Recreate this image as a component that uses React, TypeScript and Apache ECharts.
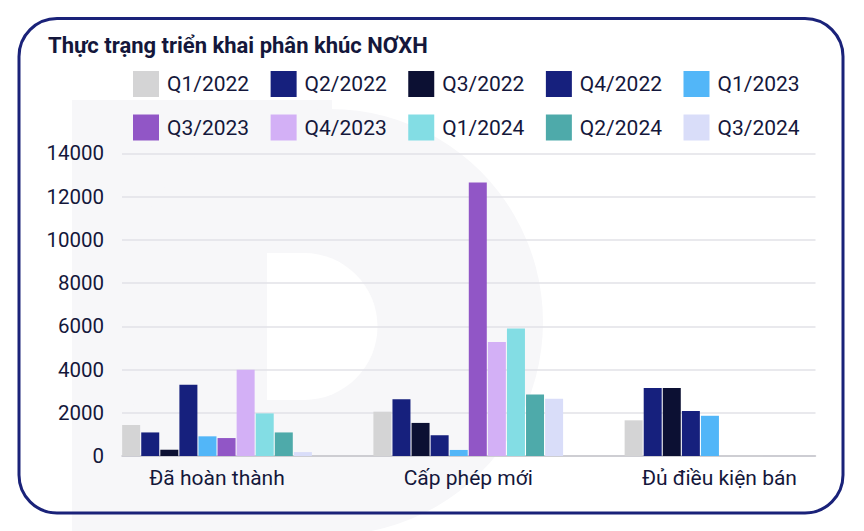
import React, { useEffect, useRef } from "react";
import * as echarts from "echarts";

const categories = ["Đã hoàn thành", "Cấp phép mới", "Đủ điều kiện bán"];
const seriesNames = [
  "Q1/2022", "Q2/2022", "Q3/2022", "Q4/2022", "Q1/2023",
  "Q3/2023", "Q4/2023", "Q1/2024", "Q2/2024", "Q3/2024",
];
const q1_2022 = [1430, 2050, 1650];
const q2_2022 = [1090, 2620, 3150];
const q3_2022 = [290, 1530, 3150];
const q4_2022 = [3290, 960, 2080];
const q1_2023 = [910, 280, 1860];
const q3_2023 = [830, 12650, null];
const q4_2023 = [3990, 5270, null];
const q1_2024 = [1970, 5900, null];
const q2_2024 = [1090, 2850, null];
const q3_2024 = [180, 2650, null];
const seriesValues = [q1_2022, q2_2022, q3_2022, q4_2022, q1_2023, q3_2023, q4_2023, q1_2024, q2_2024, q3_2024];
const seriesColors = [
  "#d4d4d5", "#16207d", "#0c1033", "#16207d", "#52b6f8",
  "#9156c6", "#d3b0f6", "#83dde4", "#4eaaaa", "#d9ddf9",
];
const yTicks = { min: 0, max: 14000, interval: 2000 };

const TEXT = "#14173b";
const FONT = "Roboto";

export default function App() {
  const ref = useRef<HTMLDivElement>(null);
  useEffect(() => {
    if (!ref.current) return;
    document.body.style.margin = "0";
    const chart = echarts.init(ref.current, null, { renderer: "svg" });
    const legendBase = {
      icon: "rect",
      itemWidth: 26,
      itemHeight: 26,
      itemGap: 21.5,
      left: 133,
      orient: "horizontal",
      padding: 0,
      selectedMode: false,
      textStyle: { fontFamily: FONT, fontSize: 21, color: TEXT, padding: [0, 0, 0, 3], width: 82 },
    };
    chart.setOption({
      animation: false,
      backgroundColor: "#ffffff",
      title: {
        text: "Thực trạng triển khai phân khúc NƠXH",
        left: 48,
        top: 34.5,
        padding: 0,
        textStyle: { fontFamily: FONT, fontSize: 22, fontWeight: "bold", color: TEXT },
      },
      legend: [
        { ...legendBase, top: 71, data: seriesNames.slice(0, 5) },
        { ...legendBase, top: 114.5, data: seriesNames.slice(5) },
      ],
      grid: [
        { left: 91.4, right: 18.9, top: 153.3, bottom: 75 },
        { left: 122, right: 48.5, top: 153.3, bottom: 75 },
      ],
      xAxis: [
        {
          type: "category",
          gridIndex: 0,
          data: categories,
          axisLine: { show: false },
          axisTick: { show: false },
          axisLabel: { fontFamily: FONT, fontSize: 21, color: TEXT, margin: 11.5 },
        },
        {
          type: "value",
          gridIndex: 1,
          min: 0,
          max: 1,
          axisLine: { show: true, lineStyle: { color: "#c4c4ca", width: 1.5 } },
          axisTick: { show: false },
          axisLabel: { show: false },
          splitLine: { show: false },
        },
      ],
      yAxis: [
        {
          type: "value",
          gridIndex: 0,
          ...yTicks,
          show: false,
          splitLine: { show: false },
        },
        {
          type: "value",
          gridIndex: 1,
          ...yTicks,
          axisLine: { show: false },
          axisTick: { show: false },
          axisLabel: {
            fontFamily: FONT,
            fontSize: 20.5,
            color: TEXT,
            margin: 18,
            formatter: (v: number) => String(v),
          },
          splitLine: { lineStyle: { color: "#e2e2e7", width: 1.5 } },
        },
      ],
      series: seriesNames.map((name, i) => ({
        name,
        type: "bar",
        xAxisIndex: 0,
        yAxisIndex: 0,
        data: seriesValues[i],
        barWidth: 18,
        barGap: "6%",
        itemStyle: { color: seriesColors[i] },
        z: 3,
      })),
      graphic: [
        { type: "rect", z: -10, silent: true, shape: { x: 72, y: 100, width: 260, height: 431 }, style: { fill: "#f7f7f9" } },
        { type: "circle", z: -10, silent: true, shape: { cx: 330, cy: 322, r: 213 }, style: { fill: "#f7f7f9" } },
        { type: "rect", z: -9, silent: true, shape: { x: 267, y: 253, width: 38, height: 147 }, style: { fill: "#ffffff" } },
        { type: "sector", z: -9, silent: true, shape: { cx: 304, cy: 326.5, r0: 0, r: 73.5, startAngle: -Math.PI / 2, endAngle: Math.PI / 2 }, style: { fill: "#ffffff" } },
        {
          type: "rect",
          z: 100,
          silent: true,
          shape: { x: 19, y: 18.5, width: 824, height: 494.5, r: 38 },
          style: { fill: "none", stroke: "#1a2279", lineWidth: 3 },
        },
      ],
    });
    return () => chart.dispose();
  }, []);
  return <div ref={ref} style={{ width: 864, height: 531 }} />;
}
